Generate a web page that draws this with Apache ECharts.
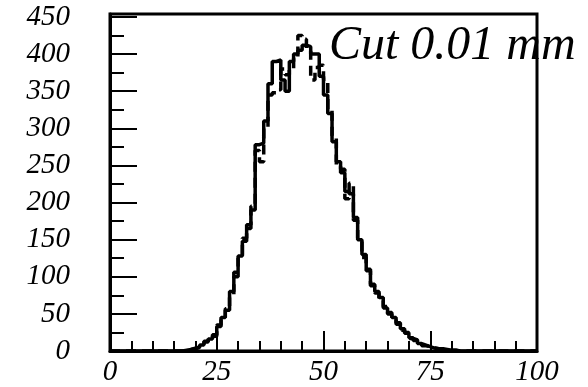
<!DOCTYPE html>
<html>
<head>
<meta charset="utf-8">
<script src="https://cdn.jsdelivr.net/npm/echarts@6/dist/echarts.min.js"></script>
<style>
html,body{margin:0;padding:0;background:#fff;}
#chart{width:588px;height:387px;}
</style>
</head>
<body>
<div id="chart"></div>
<script>
// Histogram binning: 100 bins of width 1 from 0 to 100
const binStart = 0;
const binWidth = 1;
const xTicks = [0, 25, 50, 75, 100];
const yTicks = [0, 50, 100, 150, 200, 250, 300, 350, 400, 450];
const annotation = "Cut 0.01 mm";

// solid histogram counts, bins 0..99
const countsSolid = [
  0,0,0,0,0,0,0,0,0,0,
  0,0,0,0,0,0,0,1,2,3,
  5,8,12,16,22,33,45,55,80,100,
  128,148,170,190,278,280,310,360,390,392,
  365,350,390,400,405,412,410,400,400,370,
  345,320,282,255,240,215,212,180,150,130,
  110,88,80,72,58,52,45,36,30,24,
  18,14,10,8,6,4,3,3,2,1,
  1,0,0,0,0,0,0,0,0,0,
  0,0,0,0,0,0,0,0,0,0
];
// dashed histogram counts, bins 0..99
const countsDashed = [
  0,0,0,0,0,0,0,0,0,0,
  0,0,0,0,0,0,0,1,2,4,
  5,7,13,17,20,35,43,57,72,106,
  125,152,165,195,270,255,300,345,348,352,
  380,372,380,396,425,420,404,365,382,385,
  366,325,290,250,245,205,226,176,152,126,
  108,90,78,68,60,50,44,38,28,25,
  17,15,11,7,6,4,3,2,2,1,
  1,0,0,0,0,0,0,0,0,0,
  0,0,0,0,0,0,0,0,0,0
];

function toSteps(counts){
  const pts = counts.map((c,i)=>[binStart + i*binWidth, c]);
  pts.push([binStart + counts.length*binWidth, counts[counts.length-1]]);
  return pts;
}

const labelFont = {
  color:'#000', fontFamily:'Liberation Serif', fontStyle:'italic', fontSize:29
};

const chart = echarts.init(document.getElementById('chart'), null, {renderer:'canvas'});
chart.setOption({
  animation:false,
  backgroundColor:'#fff',
  title:{
    text:annotation, left:329, top:22, padding:0, z:10,
    textStyle:{color:'#000', fontFamily:'Liberation Serif', fontStyle:'italic', fontWeight:'normal', fontSize:48}
  },
  grid:{left:110, right:51, top:14, bottom:34, show:true, borderColor:'#000', borderWidth:3, backgroundColor:'transparent'},
  xAxis:{
    type:'value', min:xTicks[0], max:xTicks[xTicks.length-1], interval:25,
    axisLine:{show:true, onZero:false, lineStyle:{color:'#000', width:3}},
    axisTick:{show:true, inside:true, length:20, lineStyle:{color:'#000', width:2}},
    minorTick:{show:true, splitNumber:5, length:10, lineStyle:{color:'#000', width:2}},
    splitLine:{show:false},
    axisLabel:Object.assign({margin:7, showMinLabel:true, showMaxLabel:true}, labelFont)
  },
  yAxis:{
    type:'value', min:0, max:454, interval:50,
    axisLine:{show:true, onZero:false, lineStyle:{color:'#000', width:3}},
    axisTick:{show:true, inside:true, length:27, lineStyle:{color:'#000', width:2}},
    minorTick:{show:true, splitNumber:2, length:14, lineStyle:{color:'#000', width:2}},
    splitLine:{show:false},
    axisLabel:Object.assign({margin:40, showMaxLabel:false,
      formatter:(v)=> yTicks.indexOf(v)>=0 ? String(v) : ''}, labelFont)
  },
  series:[
    {type:'line', step:'end', data:toSteps(countsDashed), symbol:'none',
     lineStyle:{color:'#000', width:3.5, type:[10,6]}, z:2},
    {type:'line', step:'end', data:toSteps(countsSolid), symbol:'none',
     lineStyle:{color:'#000', width:3.5}, z:3}
  ]
});
</script>
</body>
</html>
